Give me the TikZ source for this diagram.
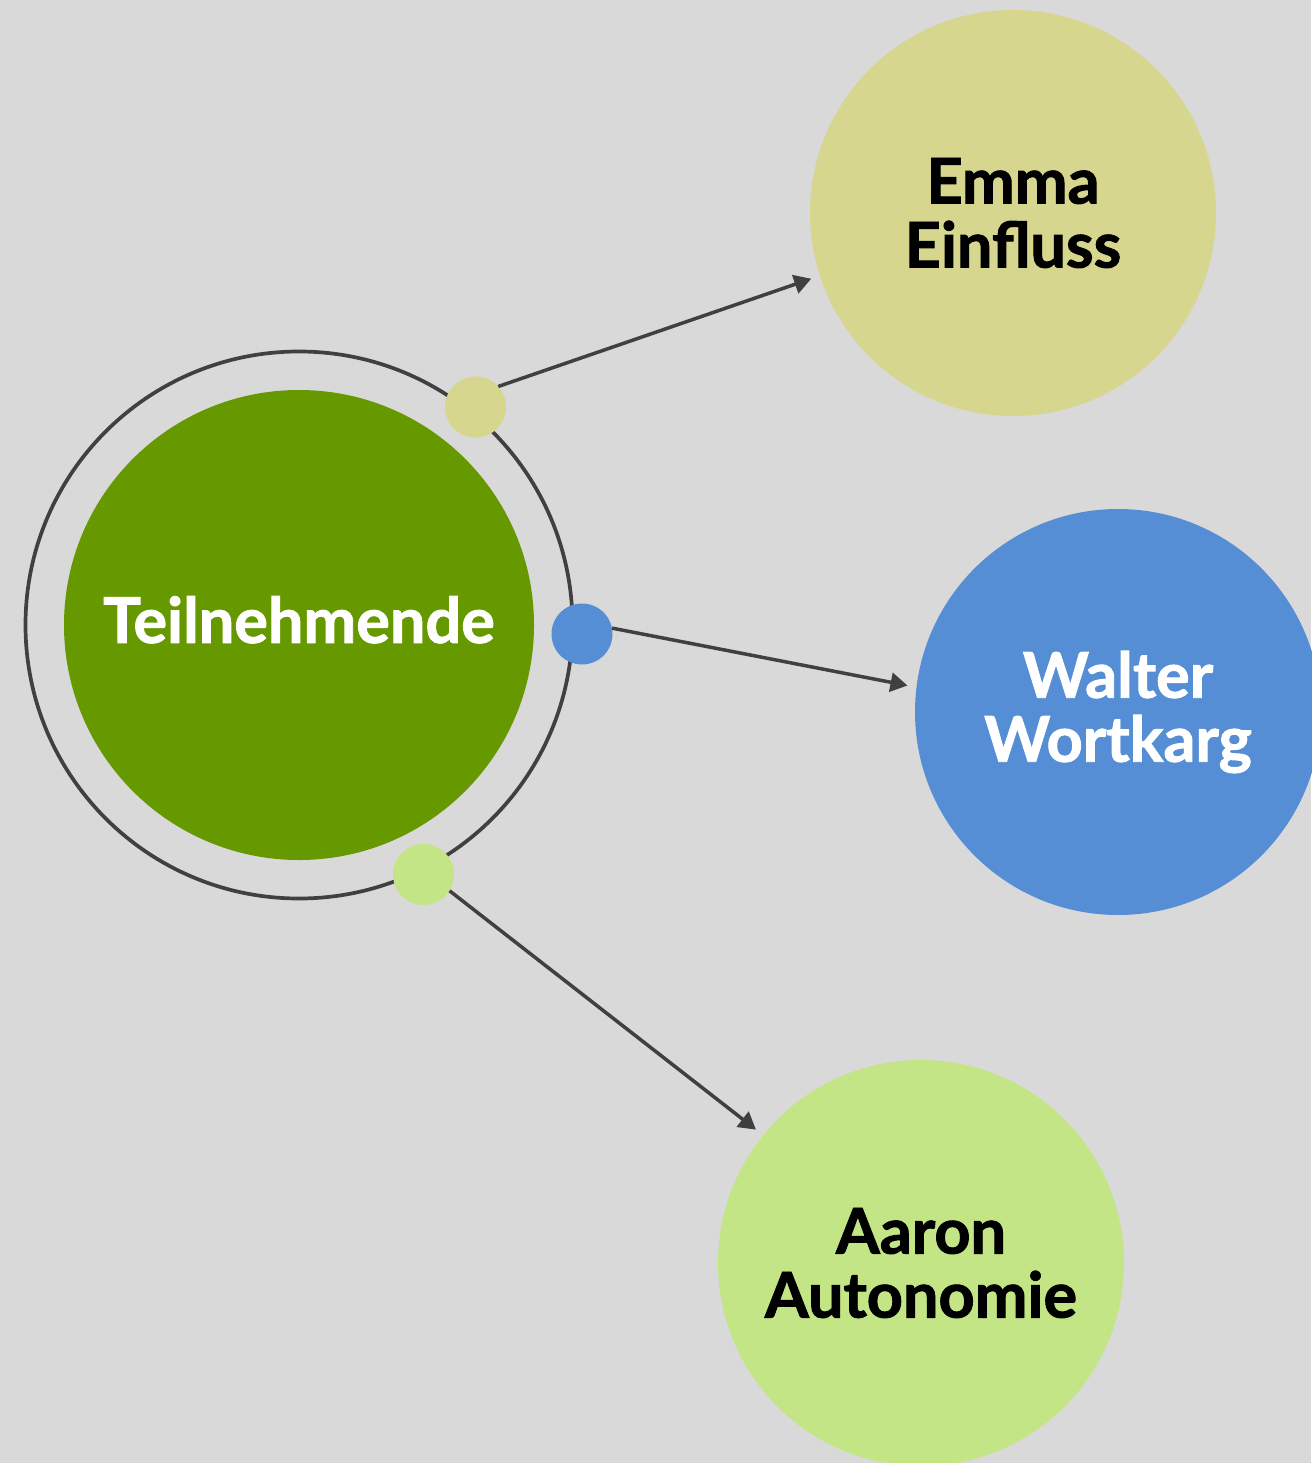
\documentclass[tikz,border=0pt]{standalone}
\usepackage{fontspec}
\setmainfont{Lato}[BoldFeatures={FakeBold=1.5}]
\usetikzlibrary{arrows.meta}
\definecolor{bg}{HTML}{D9D9D9}
\definecolor{corec}{HTML}{669900}
\definecolor{emmac}{HTML}{D6D68E}
\definecolor{walterc}{HTML}{558ED5}
\definecolor{aaronc}{HTML}{C4E586}
\definecolor{ink}{HTML}{404040}

\begin{document}
\begin{tikzpicture}[x=1pt,y=-1pt,
  labelfont/.style={font=\fontsize{63}{64}\selectfont\bfseries},
  bigdisc/.style={circle, inner sep=0pt, minimum size=406pt, align=center, labelfont},
  knob/.style={circle, inner sep=0pt, minimum size=61pt},
  link/.style={draw=ink, line width=3.5pt, -{Triangle[length=17pt,width=19pt]}, shorten >=9pt}]
  % canvas
  \fill[bg] (0,0) rectangle (1311,1463);
  \useasboundingbox (0,0) rectangle (1311,1463);

  % central group
  \node[circle, draw=ink, line width=3.7pt, minimum size=547pt, inner sep=0pt] (ring) at (299,625) {};
  \node[circle, fill=corec, minimum size=470pt, inner sep=0pt, text=white, labelfont] (core) at (299,625) {\raisebox{11pt}{Teilnehmende}};

  % outer persons
  \node[bigdisc, fill=emmac, text=black] (emma) at (1013,213) {Emma\\Einfluss};
  \node[bigdisc, fill=walterc, text=white] (walter) at (1118,712) {Walter\\Wortkarg};
  \node[bigdisc, fill=aaronc, text=black] (aaron) at (921,1263) {Aaron\\Autonomie};

  % connection points on the ring
  \node[knob, fill=emmac] (k1) at (475.5,407) {};
  \node[knob, fill=walterc] (k2) at (582,634) {};
  \node[knob, fill=aaronc] (k3) at (423.5,874.5) {};

  % connectors
  \draw[link] (k1.42) -- (emma.198);
  \draw[link] (k2.11) -- (walter.173);
  \draw[link] (k3.-32) -- (aaron.141);
\end{tikzpicture}
\end{document}
